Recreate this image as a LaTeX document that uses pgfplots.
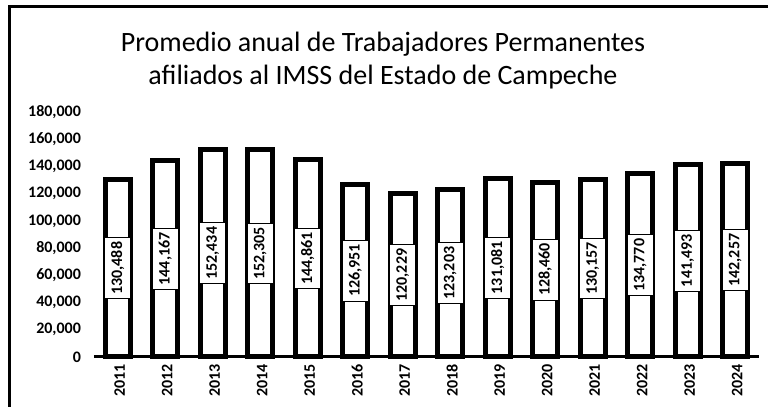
\documentclass[border=0pt]{standalone}
\usepackage{fontspec}
\setmainfont{Carlito}
\usepackage{pgfplots}
\pgfplotsset{compat=1.18}

\pgfplotstableread{
x year value
0 2011 130488
1 2012 144167
2 2013 152434
3 2014 152305
4 2015 144861
5 2016 126951
6 2017 120229
7 2018 123203
8 2019 131081
9 2020 128460
10 2021 130157
11 2022 134770
12 2023 141493
13 2024 142257
}\imss

\begin{document}
\begin{tikzpicture}
\useasboundingbox (-47pt,-25pt) rectangle (337pt,178.5pt);
% chart frame (left and top edges only, as in the scan)
\draw[line width=1.5pt] (-42pt,-25pt) -- (-42pt,175pt) -- (337pt,175pt);
\node[align=center, font=\fontsize{14}{16.5}\selectfont] at (144.5pt,148pt)
  {Promedio anual de Trabajadores Permanentes\\afiliados al IMSS del Estado de Campeche};
\begin{axis}[
  at={(0pt,0pt)}, anchor=south west,
  scale only axis, width=332.5pt, height=122.5pt,
  ybar, bar width=12.5pt,
  xmin=-0.5, xmax=13.5, ymin=0, ymax=180000,
  xtick=data, xticklabels from table={\imss}{year},
  ytick={0,20000,...,180000},
  scaled y ticks=false,
  /pgf/number format/.cd, fixed, precision=0, 1000 sep={,}, assume math mode=true, /pgfplots/.cd,
  axis x line*=bottom, axis y line*=left,
  y axis line style={draw=none},
  x axis line style={line width=1.5pt, -},
  major tick length=0pt,
  tick label style={font=\bfseries\fontsize{8}{9}\selectfont},
  xticklabel style={rotate=90, anchor=east, yshift=-1pt},
  yticklabel style={xshift=-3pt},
  clip=false,
  nodes near coords,
  visualization depends on=rawy \as \rawy,
  nodes near coords style={shift={(axis direction cs:0,-\rawy/2)},
    font=\bfseries\fontsize{8}{9}\selectfont,
    fill=white, draw=black, line width=0.4pt, rotate=90, anchor=center,
    inner xsep=2pt, inner ysep=0pt, minimum height=13pt},
]
\addplot[fill=white, draw=black, line width=2.5pt] table[x=x, y=value] {\imss};
\end{axis}
\end{tikzpicture}
\end{document}
